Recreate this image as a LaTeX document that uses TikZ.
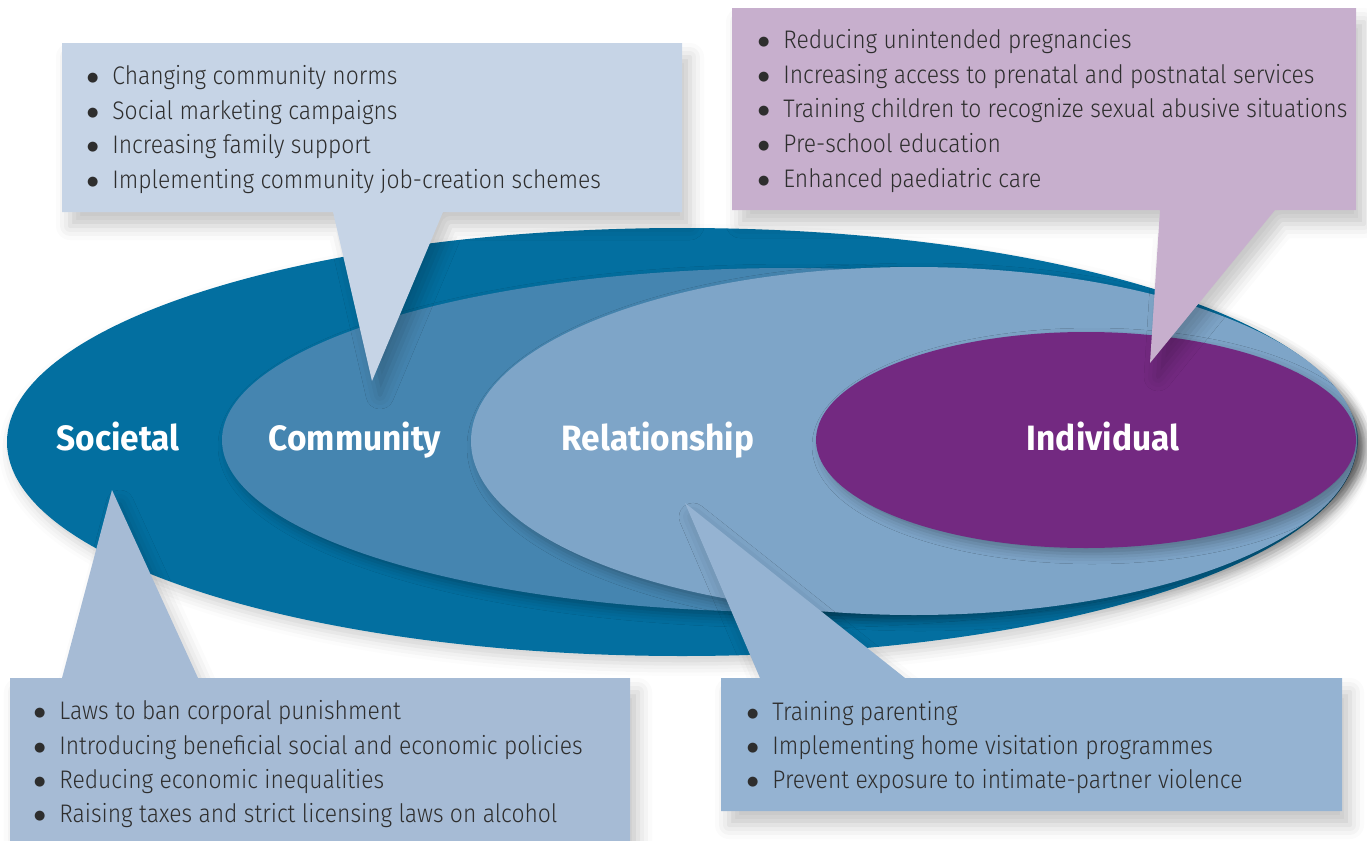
\documentclass[tikz,border=0pt]{standalone}
\usepackage{fontspec}
\usetikzlibrary{shadows.blur}
\newfontfamily\listfont{Fira Sans Light}[FakeStretch=0.9]
\newfontfamily\levelfont{Fira Sans}[FakeStretch=0.95]
\newfontfamily\dotfont{DejaVu Sans}
\definecolor{socC}{HTML}{036FA0}
\definecolor{comC}{HTML}{4585B0}
\definecolor{relC}{HTML}{7EA5C8}
\definecolor{indC}{HTML}{732981}
\definecolor{comBox}{HTML}{C6D4E6}
\definecolor{indBox}{HTML}{C7AFCD}
\definecolor{socBox}{HTML}{A6BBD5}
\definecolor{relBox}{HTML}{95B3D2}
\definecolor{txtC}{HTML}{2E2E2E}
% list bullet: a solid dot hung to the left of the line
\newcommand\bul{\llap{\raisebox{1.2pt}{\dotfont\fontsize{6.5pt}{6.5pt}\selectfont ●}\hspace{7pt}}}
\begin{document}
\begin{tikzpicture}[x=0.5pt,y=-0.5pt,
  ringshadow/.style={blur shadow={shadow xshift=3pt,shadow yshift=-3pt,
      shadow blur radius=5pt,shadow opacity=30}},
  outershadow/.style={blur shadow={shadow xshift=2pt,shadow yshift=-4pt,
      shadow blur radius=6pt,shadow opacity=18}},
  boxshadow/.style={blur shadow={shadow xshift=4pt,shadow yshift=-7pt,
      shadow blur radius=7pt,shadow opacity=22}},
  item/.style={anchor=base west,inner sep=0pt,text=txtC,
      font=\listfont\fontsize{12.7pt}{15pt}\selectfont},
  level/.style={anchor=base,inner sep=0pt,text=white,
      font=\levelfont\bfseries\fontsize{17.6pt}{20pt}\selectfont}]
\useasboundingbox (0,0) rectangle (1367,841);

% nested levels of the ecological model
\fill[socC,outershadow] (682,442) ellipse [x radius=675, y radius=214];
\fill[comC,ringshadow] (790,440) ellipse [x radius=568, y radius=172];
\fill[relC,ringshadow] (914,441) ellipse [x radius=443, y radius=174];
\fill[indC,ringshadow] (1086,440) ellipse [x radius=270, y radius=108];

\node[level] (soc) at (118,450) {Societal};
\node[level] (com) at (355,450) {Community};
\node[level] (rel) at (658,450) {Relationship};
\node[level] (ind) at (1103,450) {Individual};

% callout boxes with their pointers
\fill[comBox,boxshadow] (62,43) -- (682,43) -- (682,212) -- (443,212)
  -- (372,381) -- (333,212) -- (62,212) -- cycle;
\fill[indBox,boxshadow] (732,8) -- (1356,8) -- (1356,210) -- (1275,210)
  -- (1150,363) -- (1160,210) -- (732,210) -- cycle;
\fill[socBox,boxshadow] (10,678) -- (62,678) -- (112,490) -- (198,678)
  -- (630,678) -- (630,841) -- (10,841) -- cycle;
\fill[relBox,boxshadow] (721,678) -- (760,678) -- (685,503) -- (905,678)
  -- (1342,678) -- (1342,811) -- (721,811) -- cycle;

% community measures
\node[item] (c1) at (112,84)  {\bul Changing community norms};
\node[item] (c2) at (112,119) {\bul Social marketing campaigns};
\node[item] (c3) at (112,153) {\bul Increasing family support};
\node[item] (c4) at (112,188) {\bul Implementing community job-creation schemes};

% individual measures
\node[item] (i1) at (783,48)  {\bul Reducing unintended pregnancies};
\node[item] (i2) at (783,83)  {\bul Increasing access to prenatal and postnatal services};
\node[item] (i3) at (783,117) {\bul Training children to recognize sexual abusive situations};
\node[item] (i4) at (783,152) {\bul Pre-school education};
\node[item] (i5) at (783,187) {\bul Enhanced paediatric care};

% societal measures
\node[item] (s1) at (59,719) {\bul Laws to ban corporal punishment};
\node[item] (s2) at (59,754) {\bul Introducing beneficial social and economic policies};
\node[item] (s3) at (59,788) {\bul Reducing economic inequalities};
\node[item] (s4) at (59,822) {\bul Raising taxes and strict licensing laws on alcohol};

% relationship measures
\node[item] (r1) at (772,720) {\bul Training parenting};
\node[item] (r2) at (772,754) {\bul Implementing home visitation programmes};
\node[item] (r3) at (772,788) {\bul Prevent exposure to intimate-partner violence};
\end{tikzpicture}
\end{document}
